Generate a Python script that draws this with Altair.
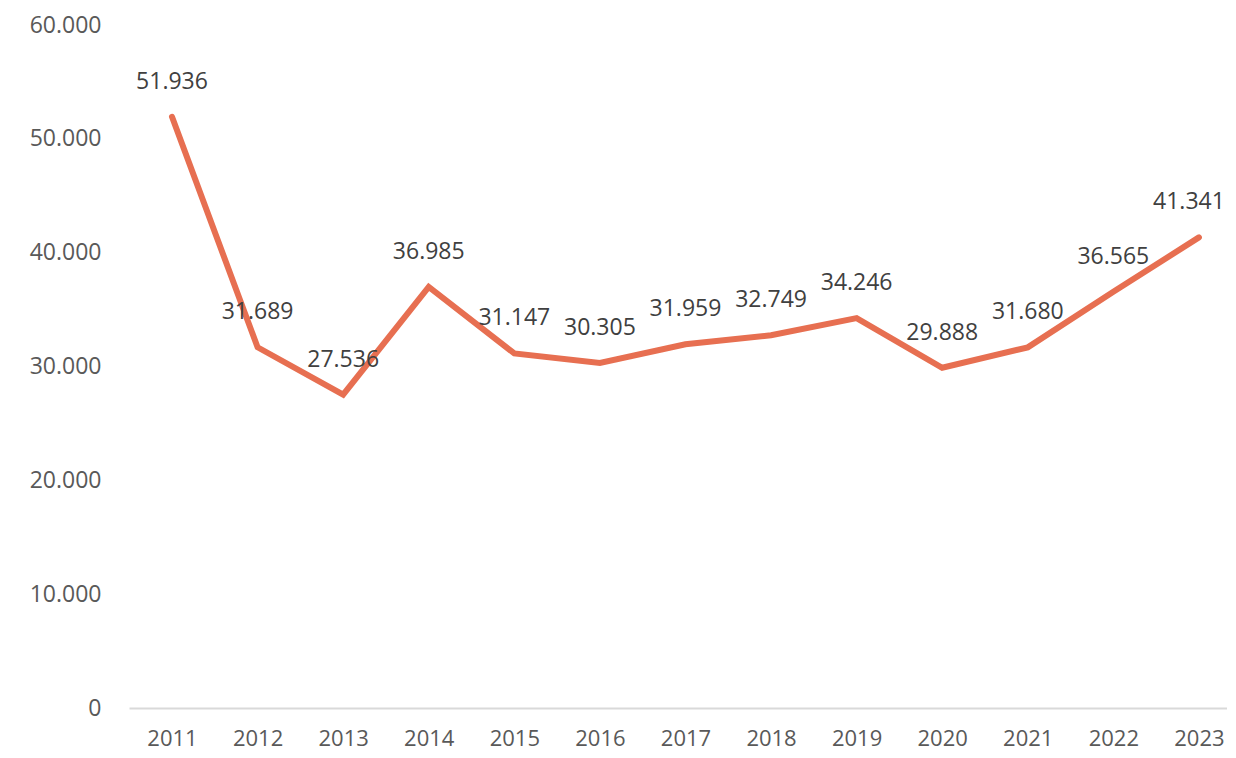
import altair as alt
import pandas as pd

years = [2011, 2012, 2013, 2014, 2015, 2016, 2017, 2018, 2019, 2020, 2021, 2022, 2023]
values = [51936, 31689, 27536, 36985, 31147, 30305, 31959, 32749, 34246, 29888, 31680, 36565, 41341]
y_ticks = [0, 10000, 20000, 30000, 40000, 50000, 60000]


def fmt(v):
    return f"{v:,}".replace(",", ".")


df = pd.DataFrame({"year": years, "value": values, "label": [fmt(v) for v in values]})

FONT = "Open Sans"
TXT = "#595959"

x_enc = alt.X(
    "year:Q",
    scale=alt.Scale(domain=[2010.4976, 2023.328], nice=False, zero=False),
    axis=alt.Axis(
        values=years,
        format="d",
        title=None,
        grid=False,
        ticks=False,
        domainColor="#D9D9D9",
        domainWidth=2,
        labelFont=FONT,
        labelFontSize=22,
        labelColor=TXT,
        labelPadding=20,
        labelFlush=False,
    ),
)
y_enc = alt.Y(
    "value:Q",
    scale=alt.Scale(domain=[0, 60000], nice=False),
    axis=alt.Axis(
        values=y_ticks,
        labelExpr="datum.value == 0 ? '0' : format(datum.value / 1000, 'd') + '.000'",
        title=None,
        grid=False,
        ticks=False,
        domain=False,
        labelFont=FONT,
        labelFontSize=23,
        labelColor=TXT,
        labelPadding=28,
    ),
)

line = alt.Chart(df).mark_line(color="#E76F51", strokeWidth=6, strokeCap="round", strokeJoin="miter").encode(
    x=x_enc, y=y_enc
)
text = (
    alt.Chart(df)
    .transform_filter("datum.year < 2023")
    .mark_text(font=FONT, fontSize=23, color="#404040", baseline="middle", align="center", dy=-35)
    .encode(x="year:Q", y="value:Q", text="label:N")
)
text_last = (
    alt.Chart(df)
    .transform_filter("datum.year == 2023")
    .mark_text(font=FONT, fontSize=23, color="#404040", baseline="middle", align="center", dy=-35, dx=-10)
    .encode(x="year:Q", y="value:Q", text="label:N")
)

chart = (
    alt.layer(line, text, text_last)
    .properties(
        width=1098,
        height=683,
        padding={"left": 121, "top": 17, "right": 0, "bottom": 42},
        autosize=alt.AutoSizeParams(type="none"),
        background="white",
    )
    .configure_view(strokeWidth=0, stroke="transparent")
)

chart.save("out.html", embed_options={"renderer": "svg", "actions": False})
